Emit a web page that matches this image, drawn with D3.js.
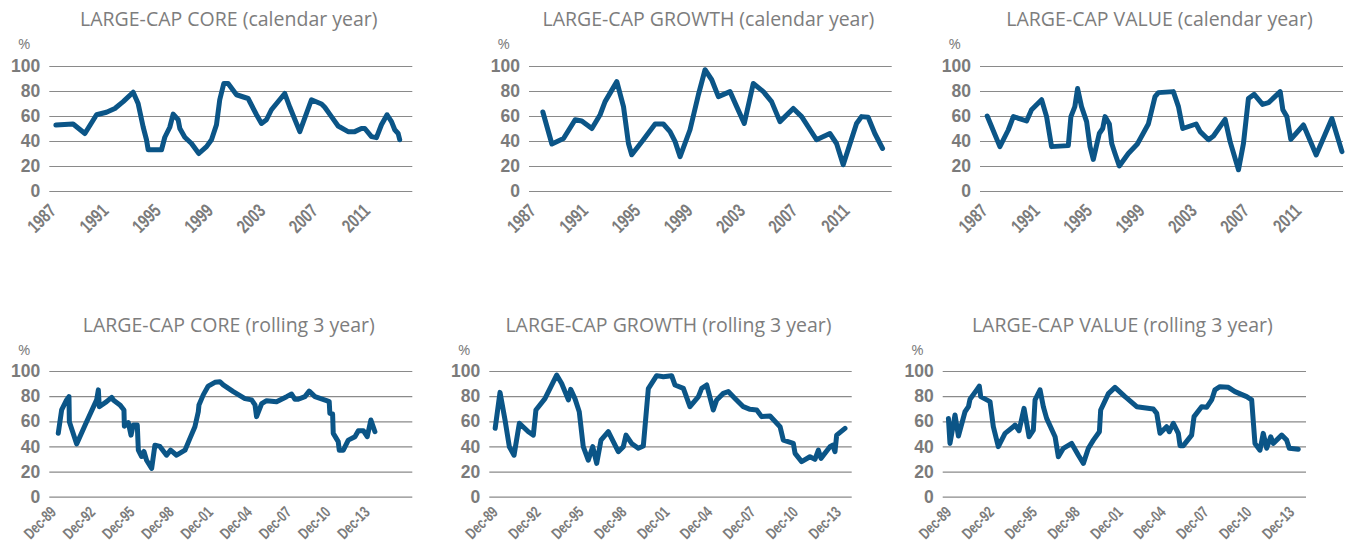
<!DOCTYPE html>
<html>
<head>
<meta charset="utf-8">
<script src="https://cdn.jsdelivr.net/npm/d3@7/dist/d3.min.js"></script>
<style>
  html, body { margin: 0; padding: 0; background: #ffffff; }
  svg { display: block; }
</style>
</head>
<body>
<svg id="chart" width="1347" height="544"></svg>
<script>
// ---------- DATA ----------
const titles = [
  "LARGE-CAP CORE (calendar year)",
  "LARGE-CAP GROWTH (calendar year)",
  "LARGE-CAP VALUE (calendar year)",
  "LARGE-CAP CORE (rolling 3 year)",
  "LARGE-CAP GROWTH (rolling 3 year)",
  "LARGE-CAP VALUE (rolling 3 year)"
];
const yTicks = [0, 20, 40, 60, 80, 100];
const calTickYears = [1987, 1991, 1995, 1999, 2003, 2007, 2011];
const calTickLabels = ["1987", "1991", "1995", "1999", "2003", "2007", "2011"];
const rollTickYears = [1990, 1993, 1996, 1999, 2002, 2005, 2008, 2011, 2014];
const rollTickLabels = ["Dec-89", "Dec-92", "Dec-95", "Dec-98", "Dec-01", "Dec-04", "Dec-07", "Dec-10", "Dec-13"];

const coreCalYears = [1987.0,1988.32,1989.22,1990.11,1990.87,1991.51,1992.15,1992.91,1993.29,1993.68,1993.93,1994.06,1995.08,1995.33,1995.71,1995.97,1996.35,1996.48,1996.86,1997.37,1997.93,1998.52,1998.9,1999.28,1999.53,1999.84,2000.17,2000.81,2001.7,2002.34,2002.72,2003.1,2003.48,2004.5,2004.89,2005.65,2006.54,2007.31,2007.56,2008.07,2008.58,2009.34,2009.85,2010.36,2010.62,2011.13,2011.51,2011.89,2012.32,2012.66,2012.91,2013.17,2013.29];
const coreCalValues = [52.8,53.6,46,61,63,66,71.5,79,70,51,41,33,33,43,51,61.5,57,50,43,38,30,35.5,41,53,73,86,86,77,74,61,54,57,65,78,67,47.5,73,69.6,67,59.5,52,47.5,47.5,50,50,43.5,42.7,53,61,55.5,49,46,41];

const growthCalYears = [1987.56,1988.25,1989.14,1990.03,1990.54,1991.31,1991.94,1992.32,1993.22,1993.73,1994.11,1994.36,1995.25,1996.15,1996.78,1997.29,1997.68,1998.06,1998.82,1999.46,1999.97,2000.48,2000.99,2001.88,2002.39,2002.97,2003.66,2004.43,2005.06,2005.7,2006.72,2007.36,2008.5,2009.52,2010.03,2010.54,2011.56,2011.94,2012.45,2012.96,2013.55];
const growthCalValues = [63.2,37.6,42,57,56,50,61,71.5,87.5,67.5,38,29,41,53.6,53.6,47.5,39.5,27.5,49,77,97,89,75.5,79.5,67.5,54,86,79.5,71.5,55.5,66,59.5,41,46,38,21,54,59.5,59,46,34];

const valueCalYears = [1987.0,1987.97,1988.61,1989.0,1990.01,1990.39,1991.16,1991.54,1991.92,1993.2,1993.4,1993.7,1993.91,1994.21,1994.6,1994.86,1995.11,1995.57,1995.83,1996.01,1996.34,1996.52,1996.77,1997.1,1997.79,1998.48,1999.32,1999.83,2000.09,2001.23,2001.62,2001.95,2002.97,2003.28,2003.92,2004.3,2005.19,2005.57,2006.21,2006.59,2006.97,2007.41,2008.05,2008.51,2009.4,2009.6,2009.91,2010.21,2011.18,2012.15,2013.35,2014.12];
const valueCalValues = [60,35.5,48.8,59.5,56,65,73,59.5,35.5,36.3,59.5,67.5,82,67.5,55.5,35.5,25.3,46,50,59.5,53.6,38,30,20,30,37.6,53.6,75.5,78.7,79.5,67.5,50,53.6,47.5,41,44,57.3,39.5,17,38,74,77.3,69.3,70.7,79.5,65,59.5,41.3,52.8,28.8,58,31.5];

const coreRollYears = [1990.2,1990.46,1990.84,1991.02,1991.05,1991.61,1992.37,1993.14,1993.27,1993.34,1993.9,1994.29,1994.41,1994.92,1995.23,1995.26,1995.56,1995.77,1995.94,1996.25,1996.33,1996.58,1996.76,1996.96,1997.35,1997.6,1997.98,1998.49,1998.8,1999.26,1999.9,2000.28,2000.66,2000.92,2000.97,2001.3,2001.68,2002.19,2002.58,2002.83,2003.6,2004.49,2005.0,2005.26,2005.38,2005.77,2006.15,2006.91,2007.68,2008.06,2008.32,2008.57,2009.08,2009.41,2009.85,2010.74,2010.94,2010.99,2011.2,2011.25,2011.63,2011.71,2012.02,2012.4,2012.91,2013.17,2013.55,2013.85,2014.13,2014.44];
const coreRollValues = [50.4,69,77,79.6,59.7,42,59.7,77,85,71.6,75.6,79,77,73,69,56,59,49,57,57,37,32,36,29,22.5,41,40,33,37,33,37,46.4,55.7,67.6,73,81,88,91,91.5,89,83.6,78,77,73,63.7,74,76.4,75.6,79.6,81.7,77.5,77.5,79.6,84,79.6,76.4,75.6,66.3,65.8,50.4,43.8,37,37,45,47.7,52.5,52.5,47.7,61,51.7];

const growthRollYears = [1989.85,1990.19,1990.54,1990.84,1991.17,1991.54,1992.17,1992.52,1992.7,1993.33,1994.15,1994.5,1994.97,1995.13,1995.43,1995.73,1996.01,1996.36,1996.67,1996.95,1997.25,1997.76,1998.46,1998.81,1999.0,1999.39,1999.86,2000.21,2000.56,2001.14,2001.61,2002.19,2002.42,2003.01,2003.47,2004.06,2004.29,2004.64,2005.1,2005.34,2005.8,2006.15,2006.62,2007.2,2007.67,2008.14,2008.48,2009.07,2009.77,2010.0,2010.7,2010.82,2011.28,2011.86,2012.21,2012.45,2012.63,2013.26,2013.45,2013.61,2013.73,2014.31];
const growthRollValues = [54.4,83,61,39.8,33,58.4,51.7,49,69,78,96.8,90,77,85.4,78,67.6,39.8,29,39.8,26.5,45,51.7,35.8,39.8,49,42.4,38.5,40.3,86,96.3,95.5,96.3,88.9,86.2,71.6,79.6,86.2,88.9,69,77,82.2,83.6,78.2,71.6,69.5,69,63.7,64.2,55.7,45,42.4,34.5,27.9,31.8,29.7,37,30.5,39.8,41,35.8,49,54.4];

const valueRollYears = [1989.84,1989.95,1990.3,1990.54,1991.0,1991.24,1991.35,1991.82,1992.0,1992.1,1992.75,1992.98,1993.33,1993.8,1994.38,1994.5,1994.78,1995.13,1995.48,1995.78,1995.9,1996.25,1996.48,1996.71,1997.3,1997.53,1997.88,1998.46,1998.93,1999.28,1999.63,1999.98,2000.4,2000.49,2001.03,2001.49,2002.19,2002.42,2003.01,2004.17,2004.41,2004.64,2005.1,2005.29,2005.57,2005.92,2006.04,2006.27,2006.85,2007.02,2007.55,2007.9,2008.25,2008.48,2008.83,2009.42,2009.88,2010.7,2011.05,2011.28,2011.63,2011.86,2012.1,2012.38,2012.56,2013.15,2013.5,2013.68,2014.31];
const valueRollValues = [62.3,42.4,65,48.3,67.6,71.6,77.5,85,88,79.6,75.6,55.7,39.8,50.4,55.7,57,52.5,70.3,47.7,53,77,85,71.6,62.3,47.7,31.8,38.5,42.4,33,26.5,38.5,45,51.7,69,82,87,79.6,77.5,71.6,69.8,66.3,50.4,55.7,51.7,58.4,50.4,40.6,40.6,49,63.7,71.6,71.1,77,85,87.5,87,83.6,79.6,77,42.4,37,50.4,38.5,47.7,42.4,49,45,38.5,37.7];

// ---------- LAYOUT ----------
const topRow = { y100: 66, y0: 191, titleY: 26, pctY: 49, labelDy: 21, labelSize: 19, labelScale: 0.74 };
const botRow = { y100: 371, y0: 496.7, titleY: 331.5, pctY: 355, labelDy: 16.5, labelSize: 16, labelScale: 0.72 };

const panels = [
  { row: topRow, left: 49.3, right: 412.3, domain: [1986.5, 2014.25], xs: coreCalYears, ys: coreCalValues, ticks: calTickYears, labels: calTickLabels },
  { row: topRow, left: 529, right: 891.7, domain: [1986.5, 2014.25], xs: growthCalYears, ys: growthCalValues, ticks: calTickYears, labels: calTickLabels },
  { row: topRow, left: 980, right: 1343, domain: [1986.45, 2014.2], xs: valueCalYears, ys: valueCalValues, ticks: calTickYears, labels: calTickLabels },
  { row: botRow, left: 49.3, right: 412.3, domain: [1989.515, 2017.3], xs: coreRollYears, ys: coreRollValues, ticks: rollTickYears, labels: rollTickLabels },
  { row: botRow, left: 489.3, right: 851.7, domain: [1989.44, 2014.78], xs: growthRollYears, ys: growthRollValues, ticks: rollTickYears, labels: rollTickLabels },
  { row: botRow, left: 942.7, right: 1306, domain: [1989.44, 2014.85], xs: valueRollYears, ys: valueRollValues, ticks: rollTickYears, labels: rollTickLabels }
];

const TEXT_GRAY = "#7b7b7b";
const GRID = "#8a8a8a";
const LINE = "#0b5587";
const TITLE_FONT = "'Open Sans', 'Noto Sans', sans-serif";
const LABEL_FONT = "'Liberation Sans', Arial, sans-serif";

const svg = d3.select("#chart");

panels.forEach((p, i) => {
  const r = p.row;
  const x = d3.scaleLinear().domain(p.domain).range([p.left, p.right]);
  const y = d3.scaleLinear().domain([0, 100]).range([r.y0, r.y100]);
  const g = svg.append("g");

  // title
  g.append("text")
    .attr("x", (p.left + p.right) / 2 - 2)
    .attr("y", r.titleY)
    .attr("text-anchor", "middle")
    .style("font-family", TITLE_FONT)
    .style("font-size", "19.5px")
    .style("fill", "#7d7d7d")
    .text(titles[i]);

  // % label
  g.append("text")
    .attr("x", p.left - 19)
    .attr("y", r.pctY)
    .attr("text-anchor", "end")
    .style("font-family", TITLE_FONT)
    .style("font-size", "15px")
    .style("fill", TEXT_GRAY)
    .text("%");

  // y axis (gridlines + labels)
  const yAxis = d3.axisLeft(y).tickValues(yTicks).tickSize(-(p.right - p.left)).tickPadding(9).tickFormat(d3.format("d"));
  const ya = g.append("g").attr("transform", `translate(${p.left},0)`).call(yAxis);
  ya.select(".domain").remove();
  ya.selectAll(".tick line").attr("stroke", GRID).attr("stroke-width", 1.2);
  ya.selectAll(".tick text")
    .style("font-family", LABEL_FONT)
    .style("font-weight", "bold")
    .style("font-size", "17.5px")
    .style("fill", TEXT_GRAY);

  // x axis labels (condensed look)
  const xAxis = d3.axisBottom(x).tickValues(p.ticks).tickSize(0).tickFormat((d, k) => p.labels[k]);
  const xa = g.append("g").attr("transform", `translate(0,${r.y0})`).call(xAxis);
  xa.select(".domain").remove();
  xa.selectAll(".tick text")
    .attr("text-anchor", "end")
    .attr("dy", null)
    .attr("y", null)
    .attr("transform", `translate(1,${r.labelDy}) rotate(-45) scale(${r.labelScale},1)`)
    .style("font-family", LABEL_FONT)
    .style("font-weight", "bold")
    .style("font-size", r.labelSize + "px")
    .style("fill", TEXT_GRAY);

  // line
  const pts = p.xs.map((d, k) => [d, p.ys[k]]);
  const line = d3.line().x(d => x(d[0])).y(d => y(d[1]));
  g.append("path")
    .datum(pts)
    .attr("d", line)
    .attr("fill", "none")
    .attr("stroke", LINE)
    .attr("stroke-width", 5)
    .attr("stroke-linejoin", "round")
    .attr("stroke-linecap", "round");
});
</script>
</body>
</html>
